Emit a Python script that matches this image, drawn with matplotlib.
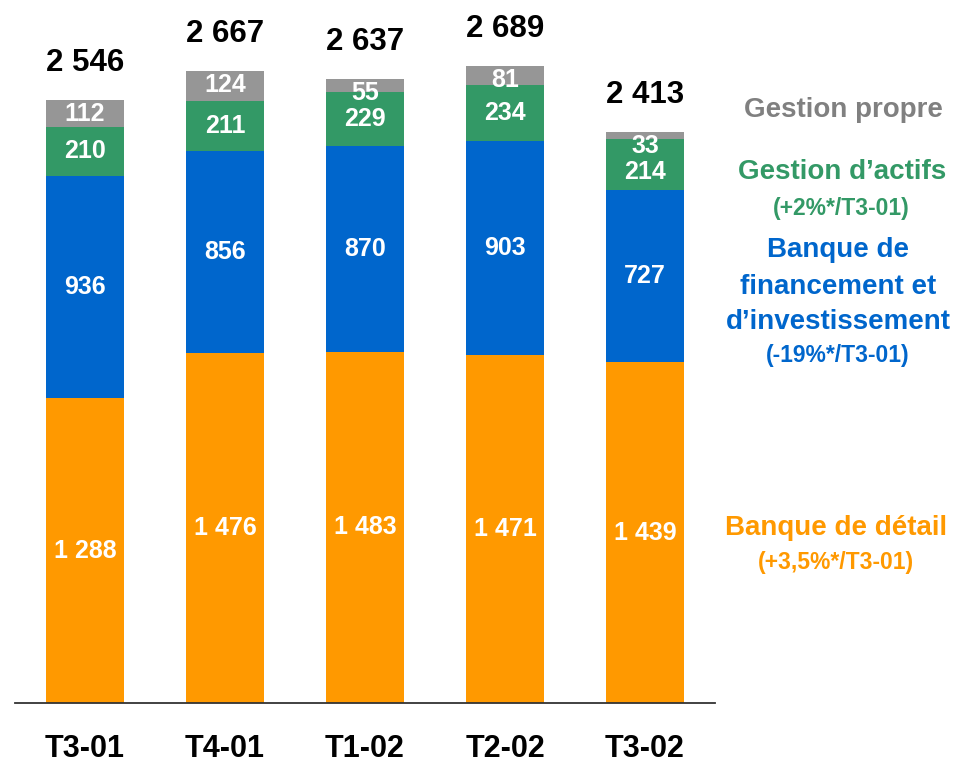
import matplotlib
matplotlib.use("Agg")
import matplotlib.pyplot as plt
import numpy as np

plt.rcParams['font.family'] = ['Liberation Sans', 'DejaVu Sans']
plt.rcParams['font.weight'] = 'bold'

categories = ["T3-01", "T4-01", "T1-02", "T2-02", "T3-02"]
banque_detail = [1288, 1476, 1483, 1471, 1439]
bfi = [936, 856, 870, 903, 727]
gestion_actifs = [210, 211, 229, 234, 214]
gestion_propre = [112, 124, 55, 81, 33]
totals = ["2 546", "2 667", "2 637", "2 689", "2 413"]
value_labels_detail = ["1 288", "1 476", "1 483", "1 471", "1 439"]

c_orange = "#FF9900"
c_blue = "#0066CC"
c_green = "#339966"
c_gray = "#969696"

fig = plt.figure(figsize=(9.58, 7.66), dpi=100)
W, H = 958, 766
ax = fig.add_axes([15 / W, 63 / H, 700 / W, 693 / H])

x = np.arange(len(categories))
scale = 0.2368  # px per unit
ax.set_xlim(-0.5, len(categories) - 0.5)
ax.set_ylim(0, 693 / scale)
bw = 0.56

d = np.array(banque_detail)
b = np.array(bfi)
g = np.array(gestion_actifs)
p = np.array(gestion_propre)

ax.bar(x, d, bw, color=c_orange)
ax.bar(x, b, bw, bottom=d, color=c_blue)
ax.bar(x, g, bw, bottom=d + b, color=c_green)
ax.bar(x, p, bw, bottom=d + b + g, color=c_gray)

tot = d + b + g + p
fs_in = 18
for i in range(len(x)):
    ax.text(x[i], d[i] / 2, value_labels_detail[i], ha='center', va='center',
            color='white', fontsize=fs_in, fontweight='bold')
    ax.text(x[i], d[i] + b[i] / 2, str(b[i]), ha='center', va='center',
            color='white', fontsize=fs_in, fontweight='bold')
    gy = d[i] + b[i] + g[i] / 2
    if p[i] < 50:
        gy -= 30
    ax.text(x[i], gy, str(g[i]), ha='center', va='center',
            color='white', fontsize=fs_in, fontweight='bold')
    ax.annotate(str(p[i]), (x[i], tot[i]), xytext=(0, -14), textcoords='offset pixels',
                ha='center', va='center', color='white', fontsize=fs_in, fontweight='bold')
    ax.annotate(totals[i], (x[i], tot[i]), xytext=(0, 37), textcoords='offset pixels',
                ha='center', va='center', color='black', fontsize=22.5, fontweight='bold')

for s in ['top', 'right', 'left']:
    ax.spines[s].set_visible(False)
ax.spines['bottom'].set_color('#333333')
ax.spines['bottom'].set_linewidth(1.3)
ax.set_yticks([])
ax.set_xticks(x)
ax.set_xticklabels(categories, fontsize=22, fontweight='bold')
ax.tick_params(axis='x', length=0, pad=22)

# right-side legend labels
def ftxt(xp, yp, s, color, fs):
    fig.text(xp / W, 1 - yp / H, s, ha='center', va='center', color=color,
             fontsize=fs, fontweight='bold')

fm, fsub = 20, 16.5
ftxt(843, 110, "Gestion propre", "#808080", fm)
ftxt(842, 172, "Gestion d\u2019actifs", c_green, fm)
ftxt(841, 208, "(+2%*/T3-01)", c_green, fsub)
ftxt(838, 250, "Banque de", c_blue, fm)
ftxt(838, 287, "financement et", c_blue, fm)
ftxt(838, 322, "d\u2019investissement", c_blue, fm)
ftxt(838, 355, "(-19%*/T3-01)", c_blue, fsub)
ftxt(836, 528, "Banque de détail", c_orange, fm)
ftxt(836, 563, "(+3,5%*/T3-01)", c_orange, fsub)

fig.savefig("out.png", dpi=100)
